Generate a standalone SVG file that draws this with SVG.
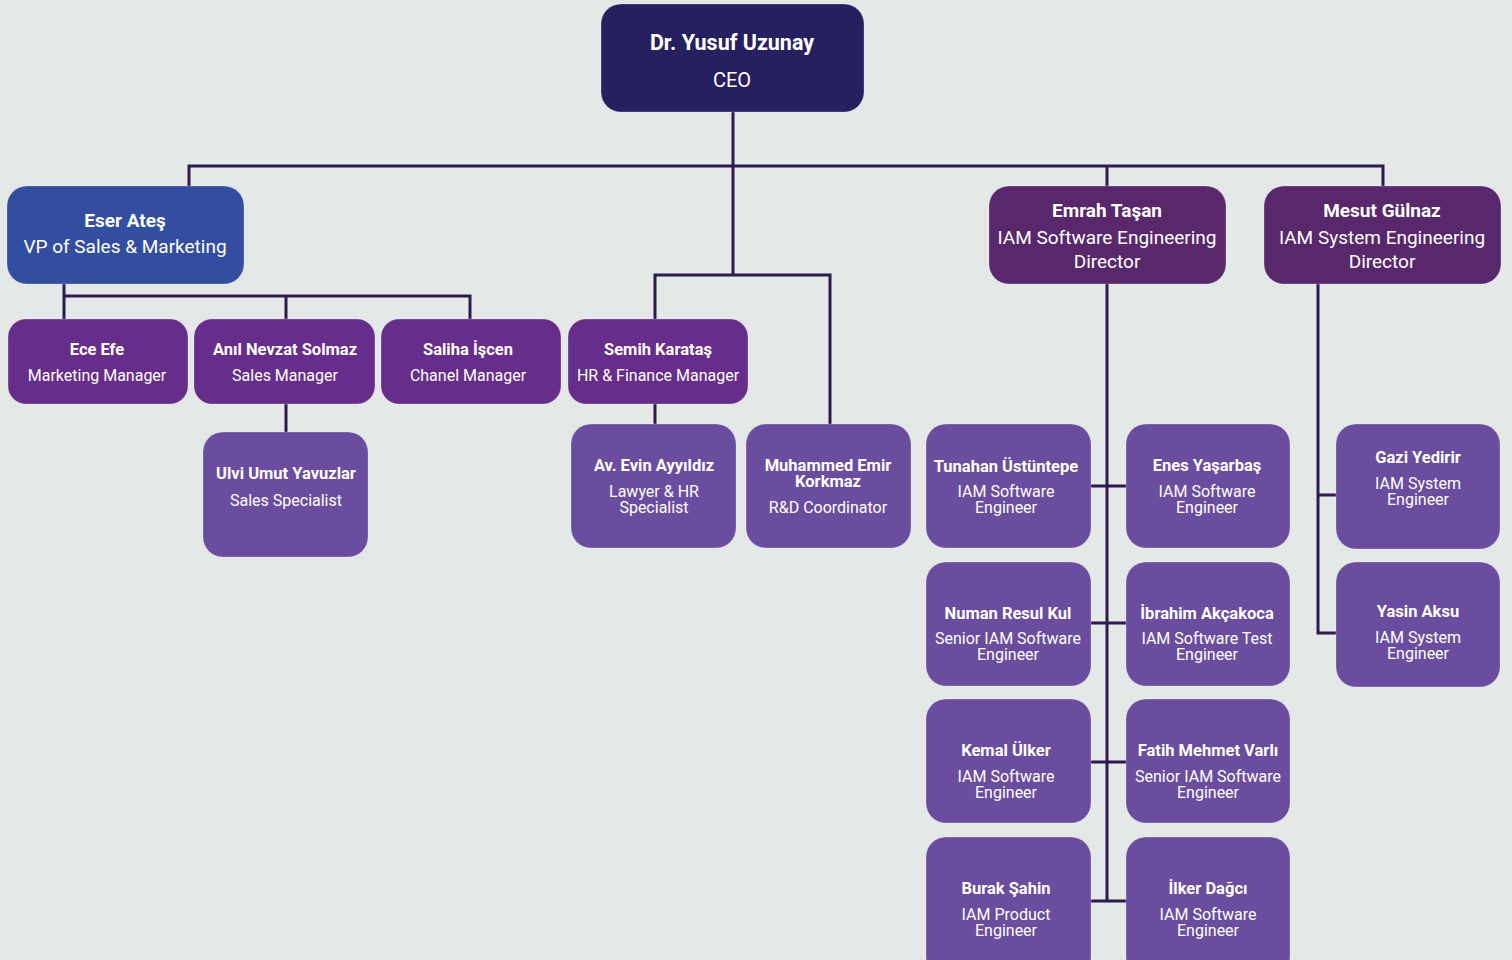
<svg xmlns="http://www.w3.org/2000/svg" width="1512" height="960" viewBox="0 0 1512 960">
<style>
.bg{fill:#e4e9e8}
.box{stroke:#ffffff;stroke-opacity:0.25;stroke-width:1}
.ceo{fill:#262061}
.vp{fill:#334ea0}
.dir{fill:#59276c}
.mgr{fill:#672d8a}
.emp{fill:#6a4d9e}
text{font-family:Roboto,"Liberation Sans",sans-serif;fill:#ffffff;text-anchor:middle}
.n{font-weight:bold;font-size:16.5px}
.t{font-size:16px}
.nl{font-weight:bold;font-size:19px}
.tl{font-size:19px}
.conn{fill:none;stroke:#2d1b4e;stroke-width:3}
</style>
<rect class="bg" x="0" y="0" width="1512" height="960"/>
<g id="connectors" class="conn">
<path d="M733 112V275"/>
<path d="M189 186V166H1383V186"/>
<path d="M1107 166V186"/>
<path d="M64 284V319M64 296H470V319M286 296V319"/>
<path d="M286 404V432"/>
<path d="M655 319V275H830V424"/>
<path d="M655 404V424"/>
<path d="M1107 284V901M1091 486H1126M1091 623H1126M1091 762H1126M1091 901H1126"/>
<path d="M1318 284V633H1336M1318 495H1336"/>
</g>
<g id="ceo">
<rect class="box ceo" x="601" y="4" width="263" height="108" rx="20"/>
<text class="nl" x="732" y="50" style="font-size:21.5px">Dr. Yusuf Uzunay</text>
<text class="tl" x="732" y="87" style="font-size:20px">CEO</text>
</g>
<g id="eser">
<rect class="box vp" x="7" y="186" width="237" height="98" rx="20"/>
<text class="nl" x="125" y="227">Eser Ateş</text>
<text class="tl" x="125" y="253">VP of Sales &amp; Marketing</text>
</g>
<g id="emrah">
<rect class="box dir" x="989" y="186" width="237" height="98" rx="20"/>
<text class="nl" x="1107" y="217">Emrah Taşan</text>
<text class="tl" x="1107" y="244">IAM Software Engineering</text>
<text class="tl" x="1107" y="268">Director</text>
</g>
<g id="mesut">
<rect class="box dir" x="1264" y="186" width="237" height="98" rx="20"/>
<text class="nl" x="1382" y="217">Mesut Gülnaz</text>
<text class="tl" x="1382" y="244">IAM System Engineering</text>
<text class="tl" x="1382" y="268">Director</text>
</g>
<g id="ece">
<rect class="box mgr" x="8" y="319" width="180" height="85" rx="18"/>
<text class="n" x="97" y="355">Ece Efe</text>
<text class="t" x="97" y="381">Marketing Manager</text>
</g>
<g id="anil">
<rect class="box mgr" x="194" y="319" width="181" height="85" rx="18"/>
<text class="n" x="285" y="355">Anıl Nevzat Solmaz</text>
<text class="t" x="285" y="381">Sales Manager</text>
</g>
<g id="saliha">
<rect class="box mgr" x="381" y="319" width="180" height="85" rx="18"/>
<text class="n" x="468" y="355">Saliha İşcen</text>
<text class="t" x="468" y="381">Chanel Manager</text>
</g>
<g id="semih">
<rect class="box mgr" x="568" y="319" width="180" height="85" rx="18"/>
<text class="n" x="658" y="355">Semih Karataş</text>
<text class="t" x="658" y="381">HR &amp; Finance Manager</text>
</g>
<g id="ulvi">
<rect class="box emp" x="203" y="432" width="165" height="125" rx="20"/>
<text class="n" x="286" y="479">Ulvi Umut Yavuzlar</text>
<text class="t" x="286" y="506">Sales Specialist</text>
</g>
<g id="evin">
<rect class="box emp" x="571" y="424" width="165" height="124" rx="20"/>
<text class="n" x="654" y="471">Av. Evin Ayyıldız</text>
<text class="t" x="654" y="497">Lawyer &amp; HR</text>
<text class="t" x="654" y="513">Specialist</text>
</g>
<g id="muhammed">
<rect class="box emp" x="746" y="424" width="165" height="124" rx="20"/>
<text class="n" x="828" y="471">Muhammed Emir</text>
<text class="n" x="828" y="487">Korkmaz</text>
<text class="t" x="828" y="513">R&amp;D Coordinator</text>
</g>
<g id="tunahan">
<rect class="box emp" x="926" y="424" width="165" height="124" rx="20"/>
<text class="n" x="1006" y="472">Tunahan Üstüntepe</text>
<text class="t" x="1006" y="497">IAM Software</text>
<text class="t" x="1006" y="513">Engineer</text>
</g>
<g id="enes">
<rect class="box emp" x="1126" y="424" width="164" height="124" rx="20"/>
<text class="n" x="1207" y="471">Enes Yaşarbaş</text>
<text class="t" x="1207" y="497">IAM Software</text>
<text class="t" x="1207" y="513">Engineer</text>
</g>
<g id="numan">
<rect class="box emp" x="926" y="562" width="165" height="124" rx="20"/>
<text class="n" x="1008" y="619">Numan Resul Kul</text>
<text class="t" x="1008" y="644">Senior IAM Software</text>
<text class="t" x="1008" y="660">Engineer</text>
</g>
<g id="ibrahim">
<rect class="box emp" x="1126" y="562" width="164" height="124" rx="20"/>
<text class="n" x="1207" y="619">İbrahim Akçakoca</text>
<text class="t" x="1207" y="644">IAM Software Test</text>
<text class="t" x="1207" y="660">Engineer</text>
</g>
<g id="kemal">
<rect class="box emp" x="926" y="699" width="165" height="124" rx="20"/>
<text class="n" x="1006" y="756">Kemal Ülker</text>
<text class="t" x="1006" y="782">IAM Software</text>
<text class="t" x="1006" y="798">Engineer</text>
</g>
<g id="fatih">
<rect class="box emp" x="1126" y="699" width="164" height="124" rx="20"/>
<text class="n" x="1208" y="756">Fatih Mehmet Varlı</text>
<text class="t" x="1208" y="782">Senior IAM Software</text>
<text class="t" x="1208" y="798">Engineer</text>
</g>
<g id="burak">
<rect class="box emp" x="926" y="837" width="165" height="140" rx="20"/>
<text class="n" x="1006" y="894">Burak Şahin</text>
<text class="t" x="1006" y="920">IAM Product</text>
<text class="t" x="1006" y="936">Engineer</text>
</g>
<g id="ilker">
<rect class="box emp" x="1126" y="837" width="164" height="140" rx="20"/>
<text class="n" x="1208" y="894">İlker Dağcı</text>
<text class="t" x="1208" y="920">IAM Software</text>
<text class="t" x="1208" y="936">Engineer</text>
</g>
<g id="gazi">
<rect class="box emp" x="1336" y="424" width="164" height="125" rx="20"/>
<text class="n" x="1418" y="463">Gazi Yedirir</text>
<text class="t" x="1418" y="489">IAM System</text>
<text class="t" x="1418" y="505">Engineer</text>
</g>
<g id="yasin">
<rect class="box emp" x="1336" y="562" width="164" height="125" rx="20"/>
<text class="n" x="1418" y="617">Yasin Aksu</text>
<text class="t" x="1418" y="643">IAM System</text>
<text class="t" x="1418" y="659">Engineer</text>
</g>
</svg>
